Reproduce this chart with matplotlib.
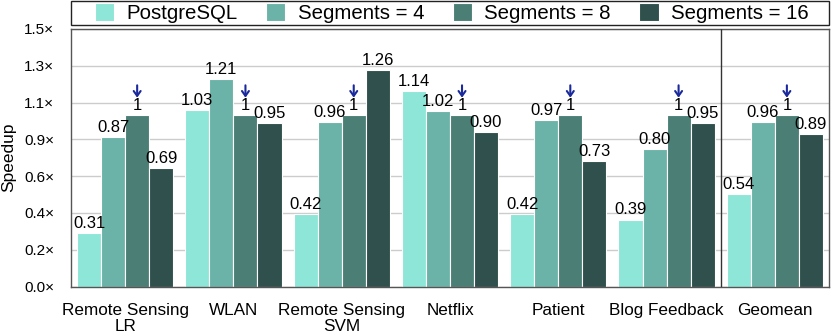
import matplotlib
matplotlib.use("Agg")
import matplotlib.pyplot as plt
from matplotlib.patches import Rectangle
import numpy as np

plt.rcParams['font.family'] = ['Liberation Sans', 'DejaVu Sans']

categories = ["Remote Sensing\nLR", "WLAN", "Remote Sensing\nSVM", "Netflix", "Patient", "Blog Feedback", "Geomean"]
series_names = ["PostgreSQL", "Segments = 4", "Segments = 8", "Segments = 16"]
postgres = [0.31, 1.03, 0.42, 1.14, 0.42, 0.39, 0.54]
seg4 = [0.87, 1.21, 0.96, 1.02, 0.97, 0.80, 0.96]
seg8 = [1, 1, 1, 1, 1, 1, 1]
seg16 = [0.69, 0.95, 1.26, 0.90, 0.73, 0.95, 0.89]
value_labels = [
    ["0.31", "1.03", "0.42", "1.14", "0.42", "0.39", "0.54"],
    ["0.87", "1.21", "0.96", "1.02", "0.97", "0.80", "0.96"],
    ["1", "1", "1", "1", "1", "1", "1"],
    ["0.69", "0.95", "1.26", "0.90", "0.73", "0.95", "0.89"],
]
yticks = list(np.linspace(0, 1.5, 8))
ytick_labels = ["0.0×", "0.2×", "0.4×", "0.6×", "0.9×", "1.1×", "1.3×", "1.5×"]

colors = ["#8de6d7", "#6bb3a8", "#4b7f76", "#2f504c"]
series = [postgres, seg4, seg8, seg16]

fig = plt.figure(figsize=(8.31, 3.33), dpi=100)
ax_l, ax_b, ax_w, ax_h = 71/831, 1-286.5/333, 758/831, 257.5/333
ax = fig.add_axes([ax_l, ax_b, ax_w, ax_h])

x = np.arange(len(categories))
w = 0.222
handles = []
for i, (vals, col, name) in enumerate(zip(series, colors, series_names)):
    pos = x + (i - 1.5) * w
    h = ax.bar(pos, vals, width=w, color=col, edgecolor="white", linewidth=0.8,
               label=name, zorder=2)
    handles.append(h)
    for p, v, t in zip(pos, vals, value_labels[i]):
        ax.text(p, v + 0.012, t, ha="center", va="bottom", fontsize=12, zorder=4)
        if i == 2:
            ax.annotate("", xy=(p, v + 0.1), xytext=(p, v + 0.172),
                        arrowprops=dict(arrowstyle="->,head_length=0.35,head_width=0.25",
                                        color="#1a2a9c", lw=1.5,
                                        shrinkA=0, shrinkB=0),
                        zorder=5)

ax.axvline(5.5, color="#333333", lw=1.0, zorder=3)
ax.set_xlim(-0.5, 6.5)
ax.set_ylim(0, 1.5)
ax.set_yticks(yticks)
ax.set_yticklabels(ytick_labels, fontsize=11)
ax.set_xticks(x)
ax.set_xticklabels(categories, fontsize=12.3, linespacing=1.1)
ax.tick_params(axis="y", length=0, pad=12)
ax.tick_params(axis="x", length=0, pad=12)
ax.set_ylabel("Speedup", fontsize=12.5, labelpad=6)
ax.yaxis.grid(True, color="#cccccc", lw=1.0, zorder=0)
ax.set_axisbelow(True)
for s in ax.spines.values():
    s.set_color("#555555")
    s.set_linewidth(1.0)

# legend box
fig.patches.append(Rectangle((71/831, 1-25/333), 758/831, 24/333, transform=fig.transFigure,
                             fill=False, edgecolor="#222222", linewidth=1.0))
leg = fig.legend(handles=handles, labels=series_names, loc="center",
                 bbox_to_anchor=((71+829)/2/831 + 0.002, 1-13/333),
                 ncol=4, fontsize=14.7, frameon=False,
                 borderaxespad=0, handlelength=0.95, handleheight=0.95,
                 borderpad=0, handletextpad=0.6, columnspacing=1.4)
for p in leg.get_patches():
    p.set_edgecolor("white")

fig.savefig("out.png", dpi=100)
